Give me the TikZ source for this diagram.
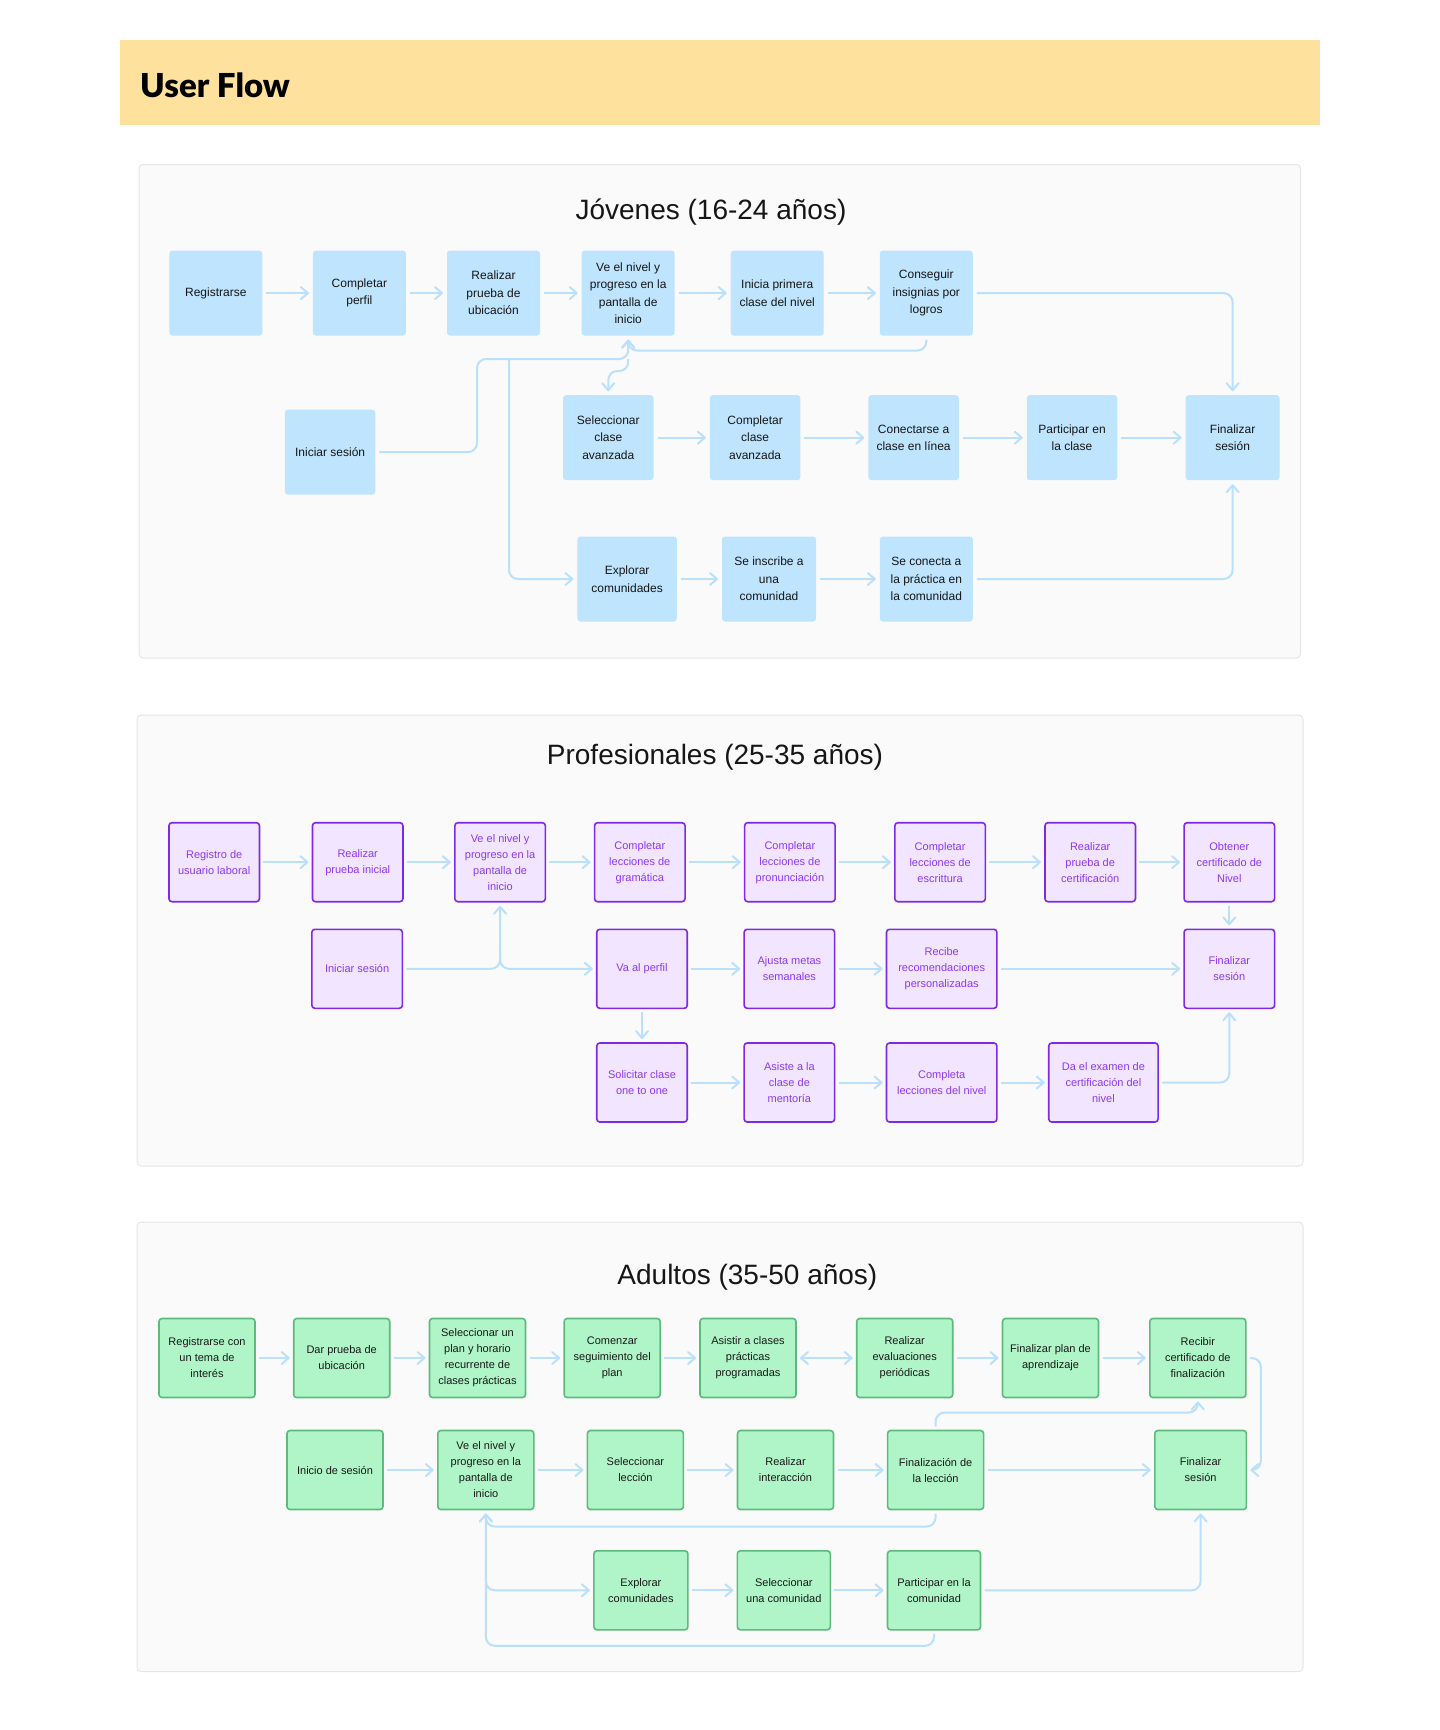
\documentclass[tikz,border=0pt]{standalone}
\usepackage{fontspec}
\setmainfont{Liberation Sans}
\newfontfamily\heavyfont{Lato Black}
\usetikzlibrary{arrows.meta}
\usetikzlibrary{calc}

\definecolor{headerfill}{RGB}{253,225,156}
\definecolor{panelbg}{RGB}{250,250,250}
\definecolor{panelline}{RGB}{230,230,230}
\definecolor{flowblue}{RGB}{186,224,252}
\definecolor{jfill}{RGB}{191,228,253}
\definecolor{jtext}{RGB}{22,22,22}
\definecolor{pfill}{RGB}{242,229,255}
\definecolor{pline}{RGB}{126,42,226}
\definecolor{ptext}{RGB}{138,58,240}
\definecolor{afill}{RGB}{176,245,200}
\definecolor{aline}{RGB}{92,186,125}
\definecolor{atext}{RGB}{24,24,24}

\tikzset{
  panel/.style={draw=panelline, fill=panelbg, line width=1pt, rounded corners=4pt},
  sectitle/.style={text=jtext, font=\fontsize{28}{30}\selectfont},
  jbox/.style={fill=jfill, text=jtext, rounded corners=3pt, minimum width=93pt, minimum height=85pt,
    inner sep=2pt, outer sep=4pt, align=center, font=\fontsize{12}{17.5}\selectfont},
  pbox/.style={draw=pline, line width=1.6pt, fill=pfill, text=ptext, rounded corners=3pt,
    minimum width=90.5pt, minimum height=79pt, inner sep=2pt, outer sep=4pt, align=center,
    font=\fontsize{11}{16}\selectfont},
  abox/.style={draw=aline, line width=1.6pt, fill=afill, text=atext, rounded corners=3pt,
    minimum width=96pt, minimum height=79pt, inner sep=2pt, outer sep=4pt, align=center,
    font=\fontsize{11}{16}\selectfont},
  flow/.style={->, draw=flowblue, line width=2pt, rounded corners=9pt},
}

\begin{document}
\begin{tikzpicture}[x=1pt, y=-1pt, >={Straight Barb[length=7pt,width=12pt,round]}]
    \useasboundingbox (0,0) rectangle (1440,1730);
    \fill[headerfill] (120,40) rectangle (1320,125);
    \node[anchor=west, inner sep=0pt, font=\heavyfont\fontsize{33}{33}\selectfont] (header) at (140,85) {User Flow};

    \draw[panel] (139,164.5) rectangle (1300.5,658);
    \draw[panel] (137,715) rectangle (1303,1166);
    \draw[panel] (137,1222) rectangle (1303,1671.5);

    \node[sectitle] (jtitle) at (711,212) {Jóvenes (16-24 años)};
    \node[sectitle] (ptitle) at (715,757) {Profesionales (25-35 años)};
    \node[sectitle] (atitle) at (747.4,1277) {Adultos (35-50 años)};

    % Jóvenes
    \node[jbox] (jreg) at (215.8,293.1) {Registrarse};
    \node[jbox] (jperf) at (359.4,293.1) {Completar\\perfil};
    \node[jbox] (jubic) at (493.5,293.1) {Realizar\\prueba de\\ubicación};
    \node[jbox] (jnivel) at (628.2,293.1) {Ve el nivel y\\progreso en la\\pantalla de\\inicio};
    \node[jbox] (jprim) at (777.2,293.1) {Inicia primera\\clase del nivel};
    \node[jbox] (jinsig) at (926.3,293.1) {Conseguir\\insignias por\\logros};
    \node[jbox, minimum width=90.5pt] (jini) at (330.1,452.1) {Iniciar sesión};
    \node[jbox, minimum width=90.5pt] (jselav) at (608.3,437.7) {Seleccionar\\clase\\avanzada};
    \node[jbox, minimum width=90.5pt] (jcompav) at (755.1,437.7) {Completar\\clase\\avanzada};
    \node[jbox, minimum width=90.5pt] (jconec) at (913.6,437.7) {Conectarse a\\clase en línea};
    \node[jbox, minimum width=90.5pt] (jpart) at (1072,437.7) {Participar en\\la clase};
    \node[jbox, minimum width=94pt] (jfin) at (1232.6,437.7) {Finalizar\\sesión};
    \node[jbox, minimum width=99.4pt] (jexpl) at (627.1,579) {Explorar\\comunidades};
    \node[jbox, minimum width=94pt] (jinscr) at (769,579) {Se inscribe a\\una\\comunidad};
    \node[jbox] (jprac) at (926.3,579) {Se conecta a\\la práctica en\\la comunidad};

    \foreach \a/\b in {jreg/jperf, jperf/jubic, jubic/jnivel, jnivel/jprim, jprim/jinsig,
        jselav/jcompav, jcompav/jconec, jconec/jpart, jpart/jfin, jexpl/jinscr, jinscr/jprac}
        \draw[flow] (\a) -- (\b);
    \draw[flow] (jinsig) -| (jfin);
    \draw[flow] (jprac) -| (jfin);
    \draw[flow] (jinsig.south) -- ++(0,11) -| (jnivel.south);
    \coordinate (jbend) at (477,359);
    \coordinate (jjoin) at (628.2,359);
    \coordinate (jsplit) at (509,359);
    \draw[flow] (jini.east) -| (jbend) -- (jjoin) -- (jnivel.south);
    \draw[flow] (jjoin) -- ++(0,12) -| (jselav.north);
    \draw[flow] (jsplit) |- (jexpl);

    % Profesionales
    \node[pbox] (preg) at (214.2,862.2) {Registro de\\usuario laboral};
    \node[pbox] (pprue) at (357.7,862.2) {Realizar\\prueba inicial};
    \node[pbox] (pnivel) at (500.1,862.2) {Ve el nivel y\\progreso en la\\pantalla de\\inicio};
    \node[pbox] (pgram) at (639.8,862.2) {Completar\\lecciones de\\gramática};
    \node[pbox] (ppron) at (789.9,862.2) {Completar\\lecciones de\\pronunciación};
    \node[pbox] (pescr) at (940.1,862.2) {Completar\\lecciones de\\escrittura};
    \node[pbox] (pcert) at (1090.2,862.2) {Realizar\\prueba de\\certificación};
    \node[pbox] (pobt) at (1229.3,862.2) {Obtener\\certificado de\\Nivel};
    \node[pbox] (pini) at (357.1,968.8) {Iniciar sesión};
    \node[pbox] (pva) at (642,968.8) {Va al perfil};
    \node[pbox] (pmet) at (789.4,968.8) {Ajusta metas\\semanales};
    \node[pbox, minimum width=110.4pt] (prec) at (941.7,968.8) {Recibe\\recomendaciones\\personalizadas};
    \node[pbox] (pfin) at (1229.3,968.8) {Finalizar\\sesión};
    \node[pbox] (psol) at (642,1082.5) {Solicitar clase\\one to one};
    \node[pbox] (pmen) at (789.4,1082.5) {Asiste a la\\clase de\\mentoría};
    \node[pbox, minimum width=110.4pt] (pcomp) at (941.7,1082.5) {Completa\\lecciones del nivel};
    \node[pbox, minimum width=109.3pt] (pexam) at (1103.4,1082.5) {Da el examen de\\certificación del\\nivel};

    \foreach \a/\b in {preg/pprue, pprue/pnivel, pnivel/pgram, pgram/ppron, ppron/pescr, pescr/pcert,
        pcert/pobt, pva/pmet, pmet/prec, prec/pfin, psol/pmen, pmen/pcomp, pcomp/pexam}
        \draw[flow] (\a) -- (\b);
    \draw[flow] (pobt) -- (pfin);
    \draw[flow] (pva) -- (psol);
    \draw[flow] (pexam) -| (pfin);
    \draw[flow] (pini) -| (pnivel);
    \coordinate (psplit) at (500.1,950);
    \draw[flow] (psplit) |- (pva);

    % Adultos
    \node[abox] (areg) at (207,1358) {Registrarse con\\un tema de\\interés};
    \node[abox] (aprue) at (341.7,1358) {Dar prueba de\\ubicación};
    \node[abox] (aplan) at (477.5,1358) {Seleccionar un\\plan y horario\\recurrente de\\clases prácticas};
    \node[abox] (acom) at (612.2,1358) {Comenzar\\seguimiento del\\plan};
    \node[abox] (aasis) at (748,1358) {Asistir a clases\\prácticas\\programadas};
    \node[abox] (aeval) at (904.7,1358) {Realizar\\evaluaciones\\periódicas};
    \node[abox] (afinp) at (1050.5,1358) {Finalizar plan de\\aprendizaje};
    \node[abox] (arec) at (1197.8,1358) {Recibir\\certificado de\\finalización};
    \node[abox] (aini) at (335,1470) {Inicio de sesión};
    \node[abox] (anivel) at (485.8,1470) {Ve el nivel y\\progreso en la\\pantalla de\\inicio};
    \node[abox] (asel) at (635.4,1470) {Seleccionar\\lección};
    \node[abox] (aint) at (785.5,1470) {Realizar\\interacción};
    \node[abox] (afinl) at (935.6,1470) {Finalización de\\la lección};
    \node[abox, minimum width=91.6pt] (afin) at (1200.6,1470) {Finalizar\\sesión};
    \node[abox, minimum width=94pt] (aexp) at (640.9,1590.3) {Explorar\\comunidades};
    \node[abox, minimum width=93pt] (acomu) at (783.8,1590.3) {Seleccionar\\una comunidad};
    \node[abox, minimum width=93pt] (apart) at (934,1590.3) {Participar en la\\comunidad};

    \foreach \a/\b in {areg/aprue, aprue/aplan, aplan/acom, acom/aasis, aeval/afinp, afinp/arec,
        aini/anivel, anivel/asel, asel/aint, aint/afinl, afinl/afin, aexp/acomu, acomu/apart}
        \draw[flow] (\a) -- (\b);
    \draw[flow, <->] (aasis) -- (aeval);
    \draw[flow] (arec.east) -- ++(11,0) |- (afin.east);
    \draw[flow] (afinl.north) -- ++(0,-14) -| (arec.south);
    \draw[flow] (afinl.south) -- ++(0,13) -| (anivel.south);
    \draw[flow] (apart.south) -- ++(0,12) -| (anivel.south);
    \coordinate (asplit) at (485.8,1560);
    \draw[flow] (asplit) |- (aexp);
    \draw[flow] (apart) -| (afin);
\end{tikzpicture}
\end{document}
